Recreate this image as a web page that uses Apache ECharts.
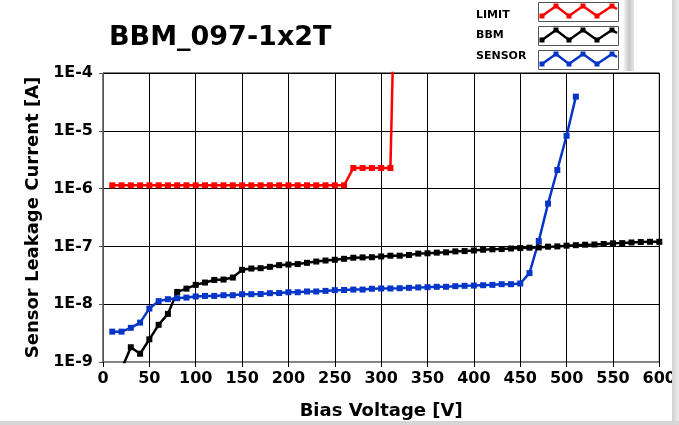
<!DOCTYPE html>
<html>
<head>
<meta charset="utf-8">
<script src="https://cdn.jsdelivr.net/npm/echarts@6/dist/echarts.min.js"></script>
<style>
    html, body { margin: 0; padding: 0; background: #fff; }
    #chart { width: 679px; height: 425px; }
</style>
</head>
<body>
<div id="chart"></div>
<script>
    // values (V, A)
    const limitVoltage = [10, 20, 30, 40, 50, 60, 70, 80, 90, 100, 110, 120, 130, 140, 150, 160,
        170, 180, 190, 200, 210, 220, 230, 240, 250, 260, 270, 280, 290, 300, 310, 320]
    const limitCurrent = [1.14e-6, 1.14e-6, 1.14e-6, 1.14e-6, 1.14e-6, 1.14e-6, 1.14e-6, 1.14e-6,
        1.14e-6, 1.14e-6, 1.14e-6, 1.14e-6, 1.14e-6, 1.14e-6, 1.14e-6, 1.14e-6, 1.14e-6, 1.14e-6,
        1.14e-6, 1.14e-6, 1.14e-6, 1.14e-6, 1.14e-6, 1.14e-6, 1.14e-6, 1.14e-6,
        2.27e-6, 2.27e-6, 2.27e-6, 2.27e-6, 2.27e-6, 20]

    const bbmVoltage = [20, 30, 40, 50, 60, 70, 80, 90, 100, 110, 120, 130, 140, 150, 160, 170, 180,
        190, 200, 210, 220, 230, 240, 250, 260, 270, 280, 290, 300, 310, 320, 330, 340, 350, 360,
        370, 380, 390, 400, 410, 420, 430, 440, 450, 460, 470, 480, 490, 500, 510, 520, 530, 540,
        550, 560, 570, 580, 590, 600]
    const bbmCurrent = [7.5e-10, 1.8e-9, 1.39e-9, 2.47e-9, 4.4e-9, 6.8e-9, 1.63e-8, 1.86e-8, 2.16e-8,
        2.37e-8, 2.63e-8, 2.67e-8, 2.89e-8, 3.93e-8, 4.14e-8, 4.2e-8, 4.43e-8, 4.74e-8, 4.85e-8,
        4.95e-8, 5.2e-8, 5.47e-8, 5.7e-8, 5.87e-8, 6.1e-8, 6.37e-8, 6.45e-8, 6.5e-8, 6.7e-8, 6.9e-8,
        6.9e-8, 7.1e-8, 7.5e-8, 7.6e-8, 7.8e-8, 7.9e-8, 8.2e-8, 8.3e-8, 8.5e-8, 8.75e-8, 8.9e-8,
        9.0e-8, 9.2e-8, 9.35e-8, 9.5e-8, 9.6e-8, 9.9e-8, 1.0e-7, 1.03e-7, 1.05e-7, 1.07e-7, 1.08e-7,
        1.1e-7, 1.13e-7, 1.14e-7, 1.17e-7, 1.19e-7, 1.2e-7, 1.2e-7]

    const sensorVoltage = [10, 20, 30, 40, 50, 60, 70, 80, 90, 100, 110, 120, 130, 140, 150, 160,
        170, 180, 190, 200, 210, 220, 230, 240, 250, 260, 270, 280, 290, 300, 310, 320, 330, 340,
        350, 360, 370, 380, 390, 400, 410, 420, 430, 440, 450, 460, 470, 480, 490, 500, 510]
    const sensorCurrent = [3.35e-9, 3.35e-9, 3.9e-9, 4.8e-9, 8.4e-9, 1.13e-8, 1.22e-8, 1.27e-8, 1.3e-8,
        1.36e-8, 1.39e-8, 1.39e-8, 1.43e-8, 1.43e-8, 1.49e-8, 1.49e-8, 1.5e-8, 1.55e-8, 1.56e-8,
        1.61e-8, 1.61e-8, 1.66e-8, 1.66e-8, 1.7e-8, 1.75e-8, 1.76e-8, 1.79e-8, 1.79e-8, 1.85e-8,
        1.87e-8, 1.87e-8, 1.89e-8, 1.92e-8, 1.95e-8, 1.97e-8, 2.0e-8, 2.0e-8, 2.05e-8, 2.08e-8,
        2.1e-8, 2.13e-8, 2.16e-8, 2.22e-8, 2.22e-8, 2.28e-8, 3.45e-8, 1.24e-7, 5.5e-7, 2.1e-6,
        8.2e-6, 3.9e-5]

    const seriesNames = ['LIMIT', 'BBM', 'SENSOR']
    const seriesColors = ['#ff0000', '#000000', '#0636c8']

    const pairs = (xs, ys) => xs.map((x, i) => [x, ys[i]])

    const font = 'DejaVu Sans'

    // little zigzag samples drawn inside the legend boxes
    function legendSamples() {
        const els = []
        seriesColors.forEach((c, i) => {
            const y0 = 3 + i * 24
            const pts = [[542, y0 + 13], [556, y0 + 3], [569, y0 + 13], [583, y0 + 3],
                [597, y0 + 13], [612, y0 + 3], [617, y0 + 6]]
            els.push({
                type: 'rect', z: 100,
                shape: {x: 538.5, y: y0 - 0.5, width: 80, height: 19},
                style: {fill: '#fff', stroke: '#555', lineWidth: 1}
            })
            els.push({
                type: 'polyline', z: 101,
                shape: {points: pts},
                style: {stroke: c, lineWidth: 2.5, fill: null}
            })
            pts.slice(0, 6).forEach(p => {
                els.push({
                    type: 'rect', z: 102,
                    shape: {x: p[0] - 2.5, y: p[1] - 2.5, width: 5, height: 5},
                    style: {fill: c}
                })
            })
        })
        return els
    }

    const chart = echarts.init(document.getElementById('chart'))
    chart.setOption({
        animation: false,
        backgroundColor: '#fff',
        title: {
            text: 'BBM_097-1x2T',
            left: 104,
            top: 19,
            textStyle: {fontFamily: font, fontWeight: 'bold', fontSize: 27, color: '#000'}
        },
        legend: {
            data: seriesNames,
            orient: 'vertical',
            right: 61,
            top: 3,
            itemWidth: 79,
            itemHeight: 18,
            itemGap: 6,
            align: 'right',
            itemStyle: {opacity: 0},
            lineStyle: {opacity: 0},
            formatter: '{a|{name}}',
            textStyle: {
                fontFamily: font,
                fontSize: 11,
                fontWeight: 'bold',
                color: '#000',
                rich: {a: {width: 52, align: 'left', fontFamily: font, fontSize: 11, fontWeight: 'bold', color: '#000'}}
            }
        },
        grid: {
            left: 103,
            right: 9,
            top: 73,
            bottom: 63,
            show: true,
            borderColor: '#000',
            borderWidth: 1,
            backgroundColor: '#fff'
        },
        xAxis: {
            type: 'value',
            min: 0,
            max: 600,
            interval: 50,
            name: 'Bias Voltage [V]',
            nameLocation: 'middle',
            nameGap: 40,
            nameTextStyle: {fontFamily: font, fontWeight: 'bold', fontSize: 18, color: '#000'},
            axisLine: {lineStyle: {color: '#888', width: 1}},
            axisTick: {show: true, length: 5, lineStyle: {color: '#000'}},
            axisLabel: {
                margin: 9,
                fontFamily: font, fontWeight: 'bold', fontSize: 16, color: '#000',
                showMaxLabel: true
            },
            splitLine: {show: true, lineStyle: {color: '#000', width: 1}}
        },
        yAxis: {
            type: 'log',
            logBase: 10,
            min: 1e-9,
            max: 1e-4,
            name: 'Sensor Leakage Current [A]',
            nameLocation: 'middle',
            nameGap: 60,
            nameTextStyle: {fontFamily: font, fontWeight: 'bold', fontSize: 18, color: '#000'},
            axisLine: {show: true, lineStyle: {color: '#555', width: 1}},
            axisTick: {show: true, length: 4, lineStyle: {color: '#555'}},
            axisLabel: {
                margin: 10,
                fontFamily: font, fontWeight: 'bold', fontSize: 16, color: '#000',
                formatter: v => '1E' + Math.round(Math.log10(v))
            },
            splitLine: {show: true, lineStyle: {color: '#000', width: 1}}
        },
        graphic: {
            elements: [
                {
                    type: 'rect', z: 99,
                    shape: {x: 624, y: 0, width: 10, height: 71},
                    style: {
                        fill: new echarts.graphic.LinearGradient(0, 0, 1, 0, [
                            {offset: 0, color: '#f2f2f2'}, {offset: 0.5, color: '#c8c8c8'},
                            {offset: 1, color: '#e6e6e6'}])
                    }
                },
                {
                    type: 'rect', z: 99,
                    shape: {x: 672, y: 0, width: 7, height: 425},
                    style: {
                        fill: new echarts.graphic.LinearGradient(0, 0, 1, 0, [
                            {offset: 0, color: '#d0d0d0'}, {offset: 1, color: '#ececec'}])
                    }
                },
                {
                    type: 'rect', z: 99,
                    shape: {x: 0, y: 421, width: 679, height: 4},
                    style: {fill: '#d6d6d6'}
                }
            ].concat(legendSamples())
        },
        series: [
            {
                name: 'LIMIT', type: 'line',
                data: pairs(limitVoltage, limitCurrent),
                symbol: 'rect', symbolSize: 6,
                itemStyle: {color: seriesColors[0]},
                lineStyle: {width: 2.5, color: seriesColors[0]},
                clip: true
            },
            {
                name: 'BBM', type: 'line',
                data: pairs(bbmVoltage, bbmCurrent),
                symbol: 'rect', symbolSize: 6,
                itemStyle: {color: seriesColors[1]},
                lineStyle: {width: 2.5, color: seriesColors[1]},
                clip: true
            },
            {
                name: 'SENSOR', type: 'line',
                data: pairs(sensorVoltage, sensorCurrent),
                symbol: 'rect', symbolSize: 6,
                itemStyle: {color: seriesColors[2]},
                lineStyle: {width: 2.5, color: seriesColors[2]},
                clip: true
            }
        ]
    })
</script>
</body>
</html>
